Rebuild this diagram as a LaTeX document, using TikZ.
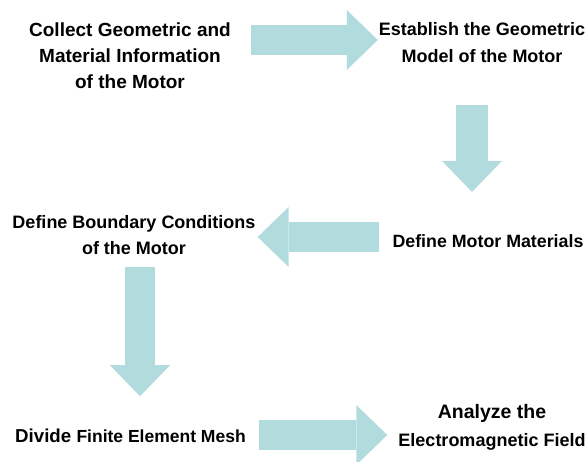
\documentclass[tikz,border=0pt]{standalone}
\usepackage{fontspec}
\setmainfont{Liberation Sans}
\usetikzlibrary{arrows.meta}

\definecolor{flowteal}{RGB}{178,219,222}

\tikzset{
  stage/.style={font=\bfseries, align=center, inner sep=0pt},
  flow/.style={draw=flowteal, line width=30pt,
    -{Triangle[length=31pt, width=60pt, line width=0pt]}},
}

\begin{document}
\begin{tikzpicture}[x=1pt, y=-1pt]
    \useasboundingbox (0,0) rectangle (587,462);

    % Define stages
    \node[stage, anchor=north, font=\bfseries\fontsize{19}{26}\selectfont] (collect) at (130,23)
        {Collect Geometric and\\Material Information\\of the Motor};
    \node[stage, anchor=north, font=\bfseries\fontsize{18}{27}\selectfont] (establish) at (482,22)
        {Establish the Geometric\\Model of the Motor};
    \node[stage, anchor=base, font=\bfseries\fontsize{17.8}{26}\selectfont] (materials) at (488,248)
        {Define Motor Materials};
    \node[stage, anchor=north, font=\bfseries\fontsize{18}{26}\selectfont] (boundary) at (134,215)
        {Define Boundary Conditions\\of the Motor};
    \node[stage, anchor=base west] (mesh) at (15,443)
        {\fontsize{18.7}{26}\selectfont Divide\ \fontsize{17.5}{26}\selectfont Finite Element Mesh};
    \node[stage, anchor=north, font=\bfseries\fontsize{18}{28}\selectfont] (analyze) at (492,404)
        {{\fontsize{19.5}{28}\selectfont Analyze the}\\Electromagnetic Field};

    % Axes of the arrows
    \coordinate (row1) at (0,40);
    \coordinate (col1) at (472,0);
    \coordinate (row2) at (0,237);
    \coordinate (col2) at (140,0);
    \coordinate (row3) at (0,435);

    % Flow between stages
    \draw[flow, shorten <=20pt, shorten >=1pt] (collect.east |- row1) -- (establish.west |- row1);
    \draw[flow, line width=32pt, shorten <=42pt, shorten >=43pt] (establish.south -| col1) -- (materials.north -| col1);
    \draw[flow, shorten <=13pt, shorten >=2pt] (materials.west |- row2) -- (boundary.east |- row2);
    \draw[flow, shorten <=12pt, shorten >=33pt] (boundary.south -| col2) -- (mesh.north -| col2);
    \draw[flow, shorten <=13pt, shorten >=11pt] (mesh.east |- row3) -- (analyze.west |- row3);

    \end{tikzpicture}
\end{document}
